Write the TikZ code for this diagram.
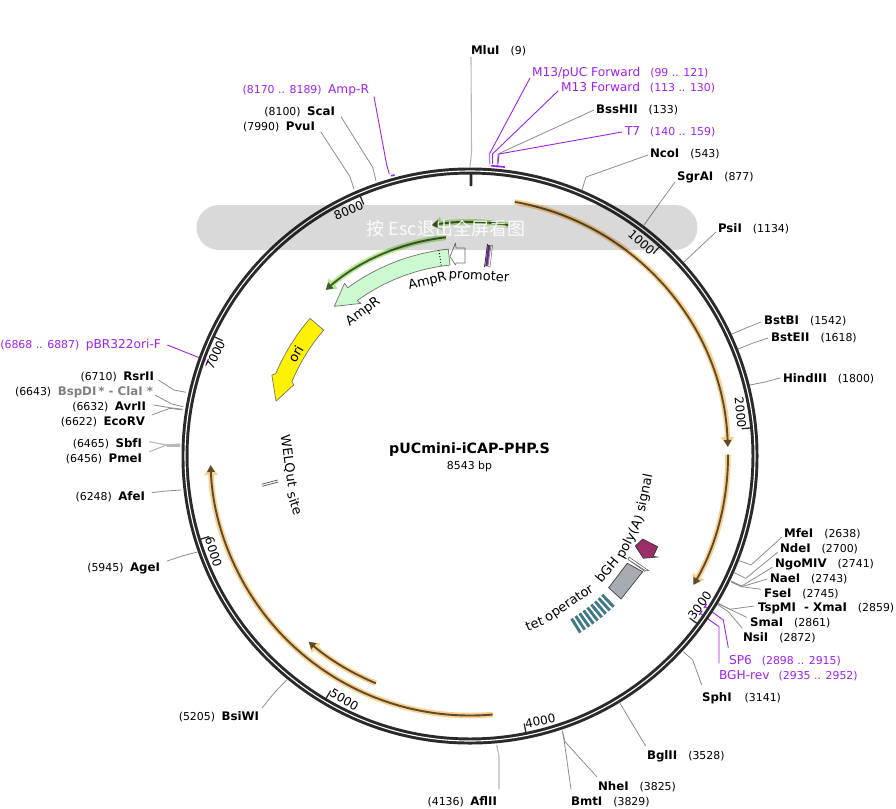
\documentclass[tikz,border=0pt]{standalone}
\usepackage{fontspec}
\setmainfont{DejaVu Sans}
\newfontfamily\cjkfont{Noto Sans CJK SC}
\usetikzlibrary{arrows.meta}
\definecolor{prim}{HTML}{A020F0}
\definecolor{ringc}{HTML}{2A2A2A}
\definecolor{leadc}{HTML}{8C8C8C}
\definecolor{leadlt}{HTML}{B8B8B8}
\definecolor{orhalo}{HTML}{FBD08C}
\definecolor{orcore}{HTML}{5E4B2E}
\definecolor{grhalo}{HTML}{B6E88E}
\definecolor{grcore}{HTML}{3F5A2C}
\definecolor{ampfill}{HTML}{CCF9CF}
\definecolor{gfeat}{HTML}{A7ACB3}
\definecolor{mar}{HTML}{9A2E68}
\definecolor{teal1}{HTML}{2E8095}
\newcommand\fnum{\fontsize{10.9}{13}\selectfont}
\newcommand\fbold{\fontsize{11.8}{13}\selectfont\bfseries}
\newcommand\fprim{\fontsize{12.2}{14}\selectfont}
\tikzset{
  x=1pt,y=-1pt,
  labw/.style={anchor=west,inner sep=0pt,outer sep=0pt,text=black,font=\fnum,yshift=-1pt},
  labe/.style={anchor=east,inner sep=0pt,outer sep=0pt,text=black,font=\fnum,yshift=-1pt},
  primw/.style={labw,text=prim},
  prime/.style={labe,text=prim},
  leadl/.style={draw=leadc,line width=.8pt,line join=round},
  leadw/.style={draw=leadlt,line width=1.1pt,line join=round},
  primlead/.style={draw=prim,line width=.9pt,line join=round},
  primmark/.style={draw=prim,line width=1.6pt},
  tickl/.style={draw=ringc,line width=1.3pt},
  ticktext/.style={font=\fontsize{12}{14}\selectfont,inner sep=0pt,text=black},
  feat/.style={draw=gray!90!black,line width=.7pt,line join=round},
  fname/.style={font=\fontsize{13}{15}\selectfont,inner sep=0pt,text=black},
}
% id, label style, position, text, p1, p2, p3, line style
\newcommand\site[8]{%
  \node[#2] (#1) at (#3) {#4};
  \coordinate (#1a) at (#5);
  \coordinate (#1b) at (#6);
  \coordinate (#1c) at (#7);
  \draw[#8] (#1a) -- (#1b) -- (#1c);
}
\newcommand\nm[1]{{\fbold #1}}
\newcommand\pn[1]{{\fprim #1}}
\newcommand\ga{\hspace{11pt}}
\newcommand\gb{\hspace{6.5pt}}
\begin{document}
\begin{tikzpicture}
\useasboundingbox (0,0) rectangle (896,808);
\coordinate (c) at (470,456);

% ---------- restriction sites and primers
\site{mlu}{labw}{471,50}{\nm{MluI}\ga(9)}{471,57}{471.5,153}{470,167}{leadw}
\site{m13p}{primw}{532,72}{\pn{M13/pUC Forward}\hspace{10pt}(99 .. 121)}{530,78}{489.7,153.5}{489.7,164}{primlead}
\site{m13f}{primw}{561,87}{\pn{M13 Forward}\hspace{10pt}(113 .. 130)}{558.3,90.7}{492.5,154}{492.5,164}{primlead}
\site{bss}{labw}{596,109}{\nm{BssHII}\ga(133)}{594,110}{498,154}{497,167}{leadl}
\site{tsv}{primw}{625,131}{\pn{T7}\hspace{10pt}(140 .. 159)}{622,132}{499,154}{498,164}{primlead}
\site{nco}{labw}{650,153}{\nm{NcoI}\ga(543)}{648,155}{586,177}{582,190}{leadl}
\site{sgr}{labw}{677,176}{\nm{SgrAI}\ga(877)}{675,182}{659,204}{644,225}{leadl}
\site{psi}{labw}{718,228}{\nm{PsiI}\ga(1134)}{716,232}{700,247}{684,262}{leadl}
\site{bstb}{labw}{764,320}{\nm{BstBI}\ga(1542)}{761,322}{746,328}{732,334}{leadl}
\site{bste}{labw}{771,337}{\nm{BstEII}\ga(1618)}{768,338}{753,343}{738,349}{leadl}
\site{hin}{labw}{783,378}{\nm{HindIII}\ga(1800)}{780,378}{765,382}{750,385}{leadl}
\site{mfe}{labw}{784,533}{\nm{MfeI}\ga(2638)}{781.7,537.3}{751,565}{739.3,560.7}{leadl}
\site{nde}{labw}{780,548}{\nm{NdeI}\ga(2700)}{777.7,552.3}{745.7,578.3}{734.3,572.7}{leadl}
\site{ngo}{labw}{775,563}{\nm{NgoMIV}\ga(2741)}{772.3,567.3}{741.7,586}{731,581}{leadl}
\site{nae}{labw}{770,578}{\nm{NaeI}\ga(2743)}{767.3,579}{741.7,586.7}{731,581.5}{leadl}
\site{fse}{labw}{764,593}{\nm{FseI}\ga(2745)}{761,589.3}{741.7,586.7}{731,582}{leadl}
\site{tsp}{labw}{758,607}{\nm{TspMI\hspace{4pt} - XmaI}\ga(2859)}{754,606}{730,609.3}{718.3,603.3}{leadl}
\site{sma}{labw}{750,622}{\nm{SmaI}\ga(2861)}{746.7,617.3}{730,609.3}{718.3,603.8}{leadl}
\site{nsi}{labw}{743,637}{\nm{NsiI}\ga(2872)}{742.3,628.3}{728.3,611.7}{717.3,604.3}{leadl}
\site{spsix}{primw}{729,660}{\pn{SP6}\hspace{10pt}(2898 .. 2915)}{728.3,647.7}{723.3,620}{705,606.7}{primlead}
\site{bgh}{primw}{719,675}{\pn{BGH-rev}\hspace{9pt}(2935 .. 2952)}{719,663.3}{719,626.7}{700,613.3}{primlead}
\site{sph}{labw}{702,697}{\nm{SphI}\hspace{13pt}(3141)}{701.7,685}{692.7,660}{683.3,651.7}{leadl}
\site{bgl}{labw}{647,755}{\nm{BglII}\ga(3528)}{645.7,746}{633,725}{620,703.3}{leadl}
\site{nhe}{labw}{598,786}{\nm{NheI}\ga(3825)}{596.7,776.7}{565,741.7}{562.3,730.7}{leadl}
\site{bmt}{labw}{571,801}{\nm{BmtI}\ga(3829)}{571,789.3}{564.3,741.7}{562.3,730.7}{leadl}
\site{afl}{labe}{497,801}{(4136)\gb\nm{AflII}}{499,789.3}{499,756.7}{496.7,745}{leadw}
\site{bsi}{labe}{259,716}{(5205)\gb\nm{BsiWI}}{262,708}{275,692}{287,679.6}{leadl}
\site{age}{labe}{160,567}{(5945)\gb\nm{AgeI}}{167,561}{182,556}{197.6,552}{leadl}
\site{afe}{labe}{145,496}{(6248)\gb\nm{AfeI}}{151.7,492.7}{166,491}{181,490}{leadl}
\site{pme}{labe}{142,458}{(6456)\gb\nm{PmeI}}{149.3,451.7}{166.7,445}{180,445}{leadw}
\site{sbf}{labe}{142,443}{(6465)\gb\nm{SbfI}}{149.3,441.7}{166.7,445}{180,444}{leadw}
\site{eco}{labe}{145,421}{(6622)\gb\nm{EcoRV}}{151.7,415}{170,408.3}{182.7,410}{leadl}
\site{avr}{labe}{146,406}{(6632)\gb\nm{AvrII}}{154,405}{170,407.7}{182.7,409.3}{leadl}
\site{bsp}{labe}{153,391}{(6643)\gb\textcolor{gray}{\nm{BspDI\,* - ClaI *}}}{155,395}{171.7,404}{183.3,406.7}{leadl}
\site{rsr}{labe}{154,376}{(6710)\gb\nm{RsrII}}{158.3,380}{174,390}{186,392.3}{leadl}
\site{pbr}{prime}{161,344}{(6868 .. 6887)\gb\pn{pBR322ori-F}}{167.3,345}{196.7,356.7}{206,360}{primlead}
\site{ampr}{prime}{369,89}{(8170 .. 8189)\gb\pn{Amp-R}}{374,96.7}{386.7,165}{389.3,174}{primlead}
\site{sca}{labe}{335,111}{(8100)\gb\nm{ScaI}}{341,116.7}{372.7,167.3}{376,180.7}{leadl}
\site{pvu}{labe}{315,126}{(7990)\gb\nm{PvuI}}{320.7,131.7}{350,176.7}{354,189.3}{leadl}
\fill[leadlt] (166.7,443.5) rectangle (180,446.5);

\begin{scope}[shift={(c)}]
% ---------- backbone
\draw[ringc,line width=7pt] (0,0) circle[radius=285pt];
\draw[white,line width=1.1pt] (0,0) circle[radius=285pt];
\draw[ringc,line width=2.6pt] (89.8:282pt) -- (89.8:270pt);

% ---------- primer marks
\draw[primmark] (85.9:291pt) arc[start angle=85.9,end angle=84.3,radius=291pt];
\draw[primmark] (84.9:291pt) arc[start angle=84.9,end angle=83.1,radius=291pt];
\draw[primmark] (105.7:291pt) arc[start angle=105.7,end angle=105,radius=291pt];
\draw[prim,line width=1.3pt] (160.6:279pt) arc[start angle=160.6,end angle=159.6,radius=279pt];
\draw[prim,line width=1.3pt] (-32:279pt) arc[start angle=-32,end angle=-33,radius=279pt];
\draw[prim,line width=1.3pt] (-33.7:279pt) arc[start angle=-33.7,end angle=-34.7,radius=279pt];

% ---------- scale
\foreach \p/\ang/\rot in {1000/47.86/-42.14,2000/5.72/-84.28,3000/-36.42/53.58,4000/-78.56/11.44,5000/-120.7/-30.7,6000/-162.84/-72.84,7000/-205/65,8000/-247.1/22.9}{
  \draw[tickl] (\ang:282pt) -- (\ang:273pt);
  \node[ticktext,rotate=\rot] at (\ang+3.4:274pt) {\p};
}

% ---------- orange and green arcs
\foreach \r/\a/\b/\hal/\cor in {
   258/80/2/orhalo/orcore,
   258/0.3/-30/orhalo/orcore,
   259.5/-85/-178/orhalo/orcore,
   246/-112.5/-131/orhalo/orcore,
   234/80.6/99.5/grhalo/grcore,
   220/96.3/131/grhalo/grcore}{
  \draw[\hal,line width=5.5pt,-{Triangle[length=10pt,width=13pt]}] (\a:\r pt) arc[start angle=\a,end angle=\b,radius=\r pt];
  \draw[\cor,line width=1.9pt,-{Triangle[length=7pt,width=7.5pt]}] (\a:\r pt) arc[start angle=\a,end angle=\b,radius=\r pt];
}

% ---------- AmpR
\draw[feat,fill=ampfill] (96:208pt) arc[start angle=96,end angle=126,radius=208pt]
   -- (126:213.5pt) -- (132.2:202pt) -- (125.5:187.5pt) -- (126:192pt)
   arc[start angle=126,end angle=96,radius=192pt] -- cycle;
\draw[black,line width=.9pt,dotted] (98.6:208pt) -- (98.6:192pt);
% ---------- ori
\draw[feat,fill=yellow] (139.3:211pt) arc[start angle=139.3,end angle=157,radius=211pt]
   -- (157.8:214pt) -- (164.2:201.6pt) -- (158:190pt) -- (157.3:193pt)
   arc[start angle=157.3,end angle=139.3,radius=193pt] -- cycle;
\foreach \a in {-46.4,-47.85,...,-58.2}{
  \draw[black!60,fill=teal1,line width=.3pt,rotate=\a] (192pt,-1.25pt) rectangle (208pt,1.25pt);
}
\end{scope}

% ---------- small features (image coordinates)
\draw[feat,fill=white] (465,248) -- (456,248) -- (455.5,243) -- (450,256.5) -- (455.5,265) -- (456,263) -- (465,263) -- cycle;
\draw[ringc,line width=.8pt] (487.5,244) -- (484.5,267);
\draw[gray,fill=white,line width=.6pt] (491,245) -- (492.5,245.5) -- (490,267) -- (488,266.5) -- cycle;
\draw[black!70,fill=prim!75!black,line width=.4pt] (488,245) -- (490,245.5) -- (487.5,266) -- (485.5,266) -- cycle;
\draw[black!70,line width=.7pt] (261.7,484.3) -- (277.7,480);
\draw[black!70,line width=.7pt] (262.3,486.3) -- (278.3,482);
\draw[gray!80!black,fill=white,line width=.6pt] (629,557) -- (648.5,570.5) -- (646,571) -- (628,559.5) -- cycle;
\draw[gray!80!black,line width=.6pt] (631,561.5) -- (645,571.5);
\draw[black!75,fill=gfeat,line width=.7pt] (627.3,563.3) -- (642.7,571.7) -- (621,599) -- (608.7,587.7) -- cycle;
\draw[black!80,fill=mar,line width=.6pt] (635.3,546) -- (642.7,539) -- (657.7,546.7) -- (653.3,556.3) -- (657.3,557) -- (643.3,558.3) -- cycle;

% ---------- feature names
\node[fname,rotate=13] (n1) at (427.5,282) {AmpR};
\node[fname,rotate=-3.5] (n2) at (479,277) {promoter};
\node[fname,rotate=36.6] (n3) at (363.3,311.7) {AmpR};
\node[fname,rotate=60] (n4) at (295.7,354) {ori};
\node[fname,rotate=50] (n5) at (606.7,570) {bGH};
\node[fname,rotate=63] (n6) at (630.7,537.3) {poly(A)};
\node[fname,rotate=78] (n7) at (645,493.3) {signal};
\node[fname,rotate=21] (n8) at (534.5,624) {tet};
\node[fname,rotate=34] (n9) at (569.3,604) {operator};
\node[fname,rotate=-82] (n10) at (288.3,461) {WELQut};
\node[fname,rotate=-72] (n11) at (295,503.3) {site};

% ---------- title
\node[font=\fontsize{14.2}{16}\selectfont\bfseries,inner sep=0pt] (title) at (469.5,450) {pUCmini-iCAP-PHP.S};
\node[font=\fontsize{10.9}{12}\selectfont,inner sep=0pt] (size) at (469.5,466) {8543 bp};

% ---------- overlay
\fill[black,opacity=.15] (219,205) -- (675,205) arc[start angle=90,end angle=-90,radius=22.5pt] -- (219,250) arc[start angle=270,end angle=90,radius=22.5pt] -- cycle;
\node[text=white,font=\cjkfont\fontsize{18}{20}\selectfont,inner sep=0pt,opacity=.9] (exit) at (446,229) {按 Esc退出全屏看图};
\end{tikzpicture}
\end{document}
